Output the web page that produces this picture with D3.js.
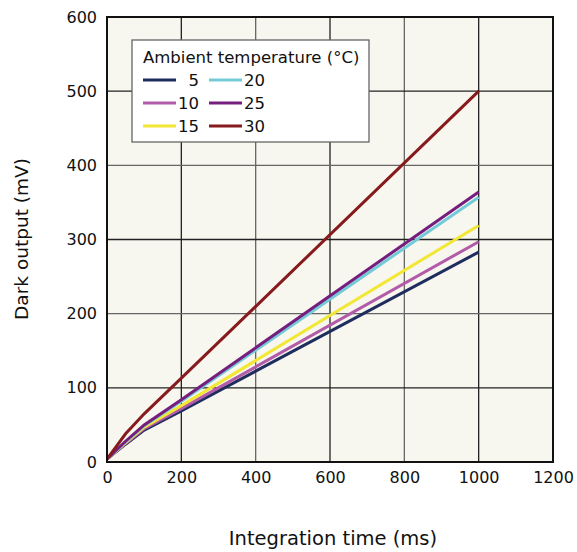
<!DOCTYPE html>
<html><head><meta charset="utf-8">
<script src="https://cdn.jsdelivr.net/npm/d3@7"></script>
<style>body{margin:0;background:#fff}svg{display:block}text{font-family:"DejaVu Sans",Verdana,sans-serif;fill:#111}</style>
</head><body><svg id="c" width="577" height="552"></svg>
<script>
const times = [0, 50, 100, 200, 1000];
const temps = [5, 10, 15, 20, 25, 30];
const colors = ["#1f2d5e", "#b25ba8", "#f2e834", "#74cbd8", "#761e7e", "#861a1c"];
const s5  = [4, 24, 43, 69, 283];
const s10 = [4, 25, 45, 72, 297];
const s15 = [4, 26, 47, 76, 319];
const s20 = [4, 27, 49, 82, 357];
const s25 = [4, 28, 50, 84, 364];
const s30 = [4, 38, 65, 113, 500];
const seriesVals = [s5, s10, s15, s20, s25, s30];
const xTicks = [0, 200, 400, 600, 800, 1000, 1200];
const yTicks = [0, 100, 200, 300, 400, 500, 600];

const svg = d3.select("#c");
const L = 107, R = 553, T = 17, B = 462;
const x = d3.scaleLinear().domain([0, 1200]).range([L, R]);
const y = d3.scaleLinear().domain([0, 600]).range([B, T]);

svg.append("rect").attr("x", L).attr("y", T).attr("width", R - L).attr("height", B - T).attr("fill", "#f7f6ef");

const g = svg.append("g");
g.selectAll("line.vx").data(xTicks.slice(1, -1)).join("line")
  .attr("x1", d => x(d)).attr("x2", d => x(d)).attr("y1", T).attr("y2", B)
  .attr("stroke", (d, i) => i % 2 ? "#666" : "#222").attr("stroke-width", 1.3);
g.selectAll("line.hy").data(yTicks.slice(1, -1)).join("line")
  .attr("y1", d => y(d)).attr("y2", d => y(d)).attr("x1", L).attr("x2", R)
  .attr("stroke", (d, i) => i % 2 ? "#666" : "#222").attr("stroke-width", 1.3);

const line = d3.line().x((d, i) => x(times[i])).y(d => y(d));
svg.append("g").selectAll("path").data(seriesVals).join("path")
  .attr("d", d => line(d)).attr("fill", "none")
  .attr("stroke", (d, i) => colors[i]).attr("stroke-width", 3);

svg.append("rect").attr("x", L).attr("y", T).attr("width", R - L).attr("height", B - T)
  .attr("fill", "none").attr("stroke", "#111").attr("stroke-width", 2);

const xa = svg.append("g").attr("transform", `translate(0,${B})`)
  .call(d3.axisBottom(x).tickValues(xTicks).tickSize(0).tickPadding(10).tickFormat(d3.format("d")));
xa.select(".domain").remove();
xa.selectAll("text").attr("font-size", 16).attr("font-family", null).attr("dy", "0.71em");
const ya = svg.append("g").attr("transform", `translate(${L},0)`)
  .call(d3.axisLeft(y).tickValues(yTicks).tickSize(0).tickPadding(10).tickFormat(d3.format("d")));
ya.select(".domain").remove();
ya.selectAll("text").attr("font-size", 16).attr("font-family", null);

svg.append("text").attr("x", 333).attr("y", 545).attr("text-anchor", "middle").attr("font-size", 19.5)
  .text("Integration time (ms)");
svg.append("text").attr("transform", "translate(28,239) rotate(-90)").attr("text-anchor", "middle").attr("font-size", 18.5)
  .text("Dark output (mV)");

// legend
const lg = svg.append("g");
lg.append("rect").attr("x", 132).attr("y", 40).attr("width", 237).attr("height", 102)
  .attr("fill", "#fff").attr("stroke", "#666").attr("stroke-width", 1.3);
lg.append("text").attr("x", 143).attr("y", 63).attr("font-size", 16.5).text("Ambient temperature (°C)");
temps.forEach((t, i) => {
  const col = Math.floor(i / 3), row = i % 3;
  const sx = 143 + col * 66, cy = 80 + row * 23;
  lg.append("line").attr("x1", sx).attr("x2", sx + 33).attr("y1", cy).attr("y2", cy)
    .attr("stroke", colors[i]).attr("stroke-width", 3);
  lg.append("text").attr("x", sx + 56).attr("y", cy).attr("dy", "0.36em").attr("text-anchor", "end")
    .attr("font-size", 16.5).text(t);
});
</script></body></html>
